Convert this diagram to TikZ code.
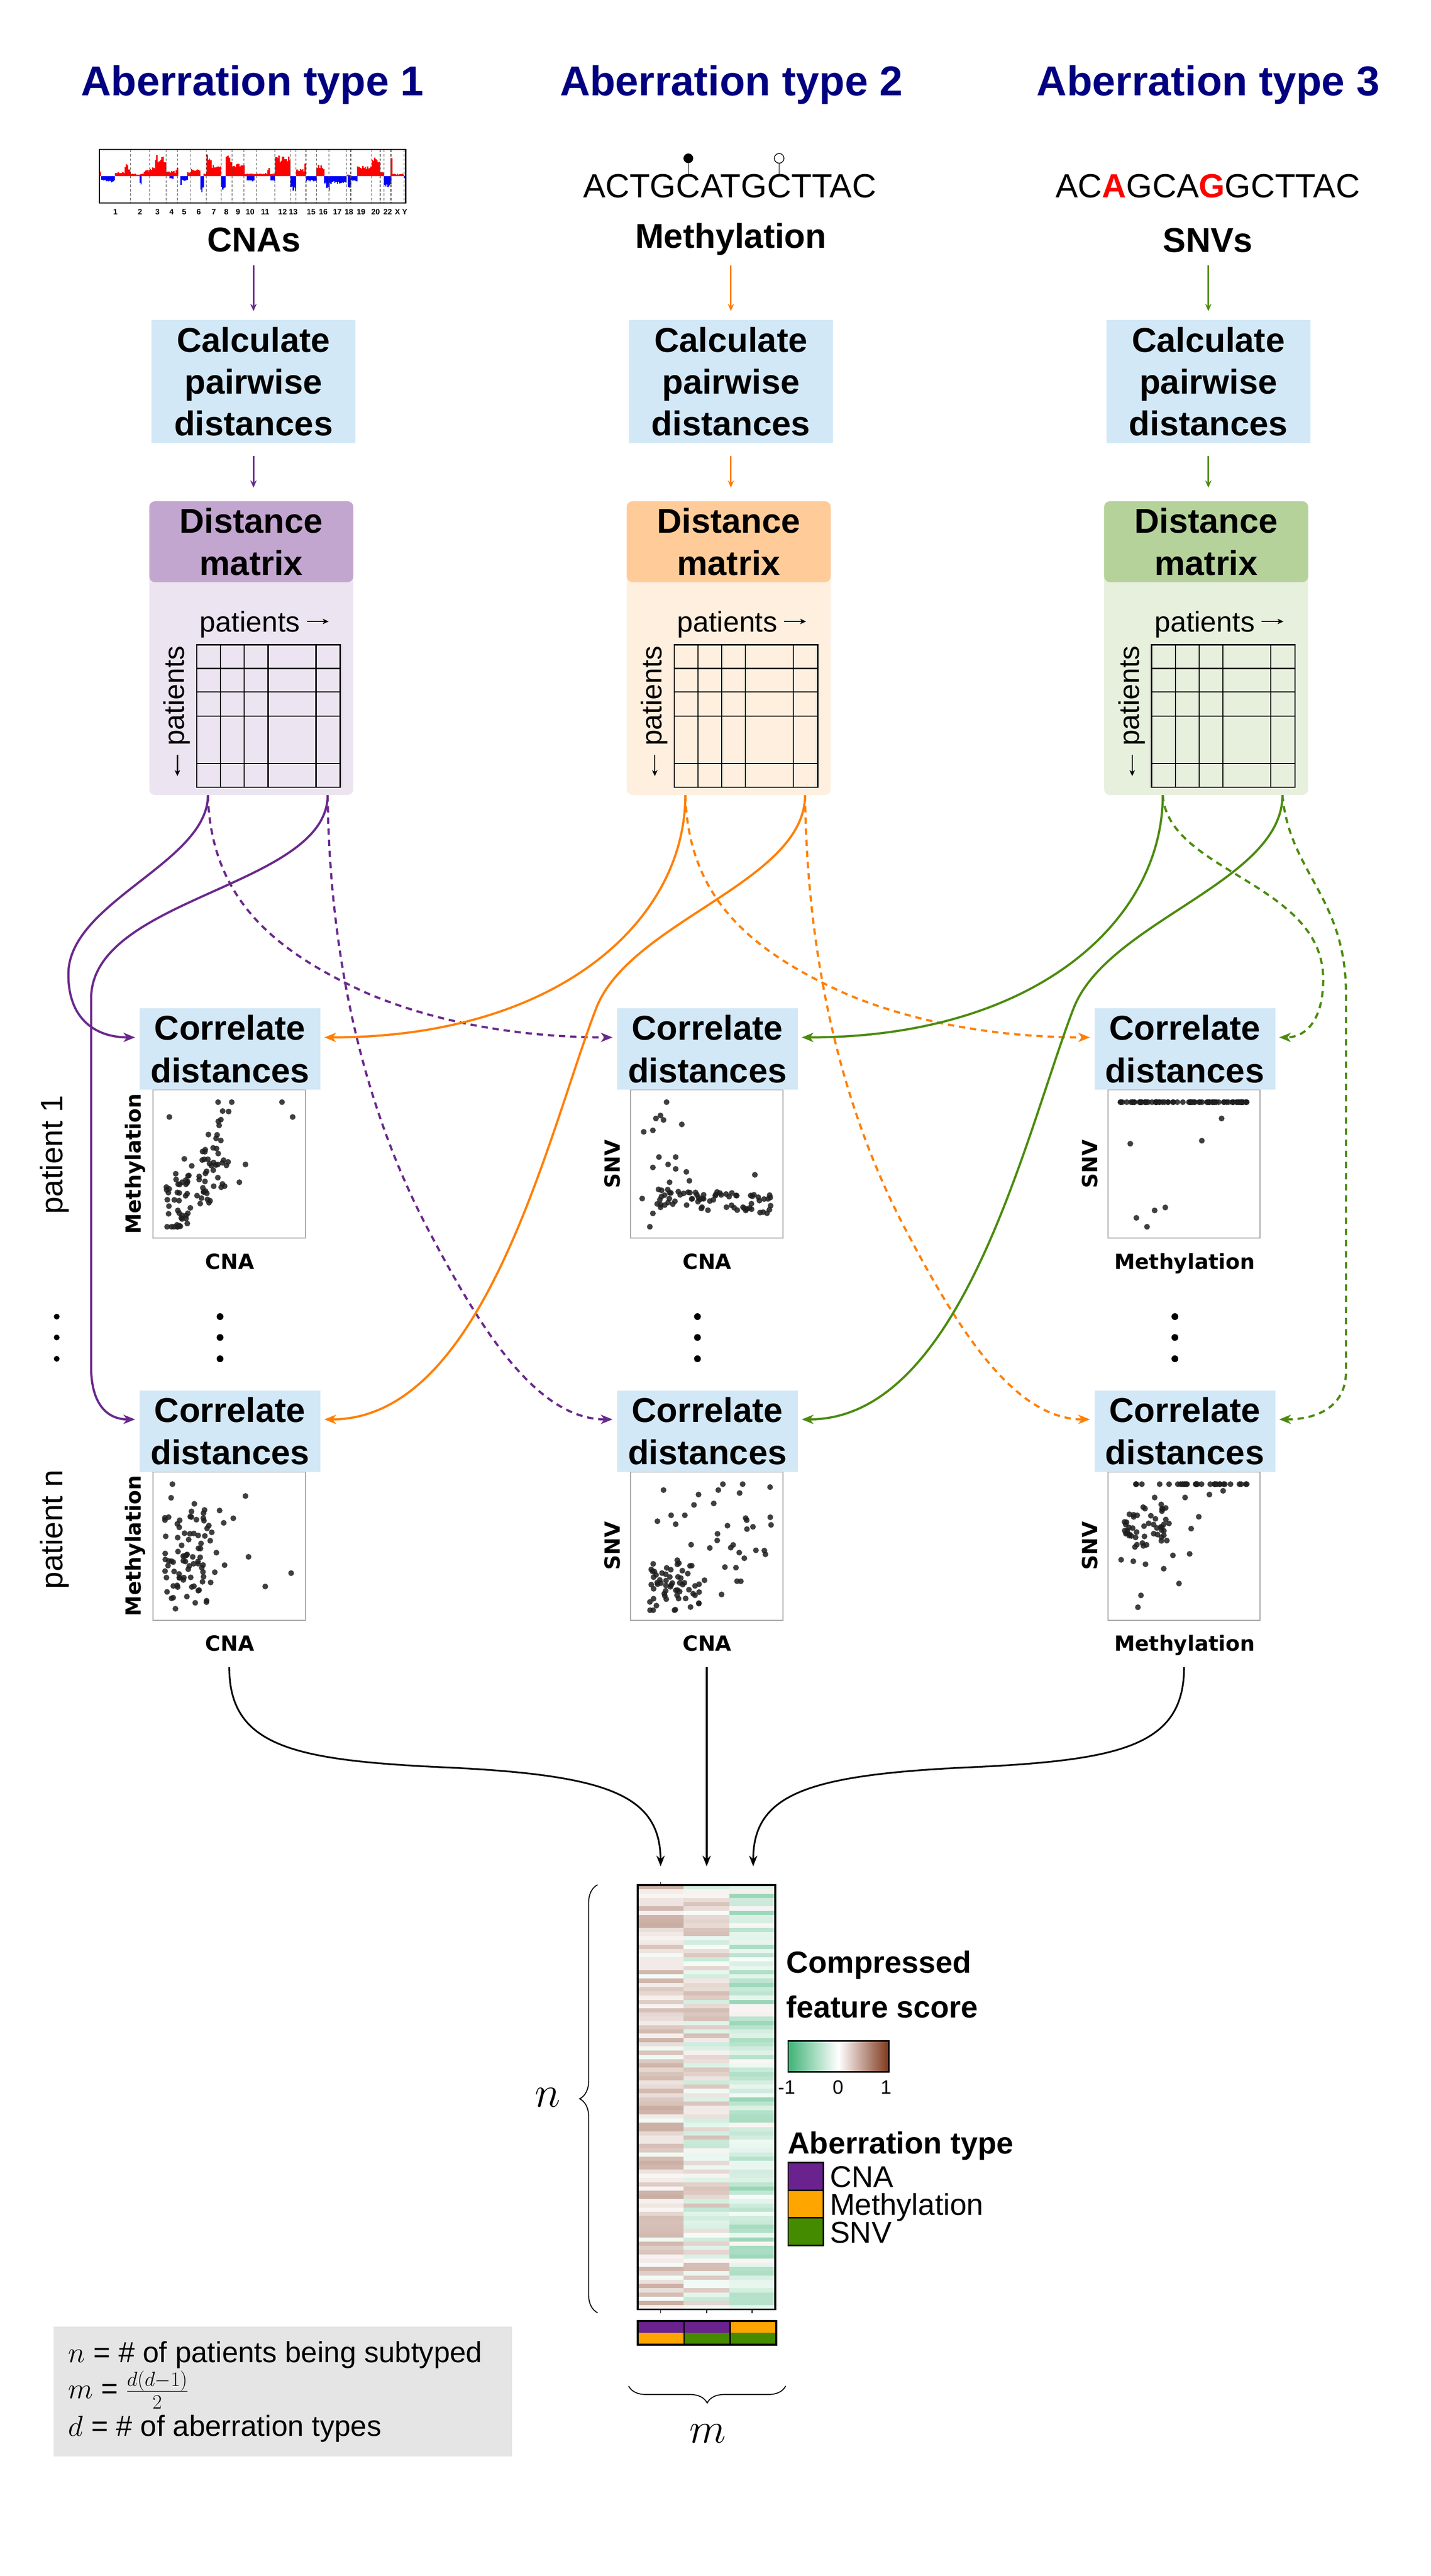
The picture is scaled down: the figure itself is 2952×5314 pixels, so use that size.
\documentclass[tikz,border=0pt]{standalone}
\usepackage{fix-cm}
\usepackage[no-math]{fontspec}
\setmainfont{Liberation Sans}
\newfontfamily\dejavu{DejaVu Sans}
\usetikzlibrary{arrows.meta,decorations.pathreplacing}

\definecolor{navy}{RGB}{0,0,128}
\definecolor{calcblue}{RGB}{211,232,246}
\definecolor{cpur}{RGB}{106,40,140}
\definecolor{corg}{RGB}{255,127,0}
\definecolor{cgrn}{RGB}{75,139,12}
\definecolor{dmpH}{RGB}{195,166,207}
\definecolor{dmpL}{RGB}{236,228,241}
\definecolor{dmoH}{RGB}{255,204,153}
\definecolor{dmoL}{RGB}{255,239,222}
\definecolor{dmgH}{RGB}{182,210,155}
\definecolor{dmgL}{RGB}{231,240,221}
\definecolor{hmgreen}{RGB}{62,178,118}
\definecolor{hmbrown}{RGB}{126,56,28}
\definecolor{legpur}{RGB}{106,34,142}
\definecolor{legorg}{RGB}{255,165,0}
\definecolor{leggrn}{RGB}{69,139,0}
\definecolor{boxgray}{RGB}{229,229,229}
\definecolor{ptc}{RGB}{30,30,30}

\tikzset{
  ttl/.style={font=\fontsize{86}{100}\selectfont\bfseries, text=navy, inner sep=0pt, anchor=base},
  lab/.style={font=\fontsize{71}{86}\selectfont\bfseries, inner sep=0pt, anchor=base},
  seqtxt/.style={font=\fontsize{69}{80}\selectfont, inner sep=0pt, anchor=base west},
  calcbox/.style={fill=calcblue, minimum width=421pt, minimum height=254pt, align=center, inner sep=0pt, font=\fontsize{71}{86}\selectfont\bfseries},
  dmhead/.style={rounded corners=12pt, minimum width=421pt, minimum height=167pt, align=center, inner sep=0pt, font=\fontsize{71}{87}\selectfont\bfseries},
  dmbody/.style={rounded corners=12pt, minimum width=421pt, minimum height=606pt, inner sep=0pt},
  corrbox/.style={fill=calcblue, minimum width=373pt, minimum height=168pt, align=center, inner sep=0pt, font=\fontsize{71}{88}\selectfont\bfseries},
  sframe/.style={draw=black!35, line width=2.2pt, minimum width=314pt, minimum height=306pt, inner sep=0pt},
  axlab/.style={font=\dejavu\bfseries\fontsize{43}{50}\selectfont, inner sep=0pt},
  dotpt/.style={fill=ptc, fill opacity=0.85},
  conn/.style={line width=4.5pt, -{Stealth[length=24pt,width=19pt,inset=7pt]}},
  dsh/.style={dash pattern=on 13pt off 10pt},
  smallarr/.style={line width=3pt, -{Stealth[length=15pt,width=13pt,inset=5pt]}},
  mergearr/.style={line width=3.5pt, -{Stealth[length=22pt,width=17pt,inset=7pt]}},
  gridln/.style={line width=2.5pt},
  plain/.style={inner sep=0pt},
  legtxt/.style={inner sep=0pt, anchor=base west, font=\fontsize{62}{70}\selectfont},
  legttl/.style={inner sep=0pt, anchor=base west, font=\fontsize{63}{70}\selectfont\bfseries},
}

\begin{document}
\begin{tikzpicture}[x=1pt,y=-1pt]
\fill[white] (0,0) rectangle (2952,5314);
\useasboundingbox (0,0) rectangle (2952,5314);

% ---------- titles ----------
\node[ttl] (t1) at (521,197) {Aberration type 1};
\node[ttl] (t2) at (1509,197) {Aberration type 2};
\node[ttl] (t3) at (2493,197) {Aberration type 3};

% ---------- CNA genome plot ----------
\pgfmathsetseed{7}
\foreach \sa/\sb/\sh in {205/208/9, 208/237/-9, 228/235/-13, 237/270/9, 257/264/22, 265/268/17, 270/309/5, 288/292/-18, 297/309/12, 309/343/17, 320/343/40, 343/367/10, 350/358/-5, 362/367/17, 372/387/-9, 372/375/-22, 386/394/9, 394/413/16, 413/420/-29, 420/426/6, 426/436/42, 436/456/22, 456/465/-29, 465/479/40, 479/504/24, 504/529/6, 509/525/-9, 529/567/6, 552/556/17, 558/567/-9, 567/599/39, 599/611/-29, 611/631/14, 628/631/25, 631/653/-9, 653/669/22, 669/715/-14, 673/680/-29, 715/724/4, 717/724/-21, 724/737/-9, 737/767/20, 767/784/39, 784/792/9, 792/807/-20, 806/809/35, 809/834/5, 834/837/-4}{
  \pgfmathsetmacro\nn{int(max(1,round((\sb-\sa)/2.5)))}
  \pgfmathsetmacro\ww{(\sb-\sa)/\nn}
  \foreach \j in {1,...,\nn}{
    \pgfmathsetmacro\xx{\sa+(\j-1)*\ww}
    \pgfmathsetmacro\hh{\sh*(0.72+0.4*rnd)}
    \ifdim\hh pt>0pt \def\cc{red}\else\def\cc{blue}\fi
    \fill[\cc] (\xx,364) rectangle ({\xx+\ww+0.4},{364-\hh});
  }
}
\foreach \sx in {269.2,308.5,342.9,366.5,393.8,425.9,456.3,478.6,503.6,528.6,567,599.1,610.7,631.3,653.1,678.6,714.7,723.7,767,784.4,792.4,806.7,833.9}
  \draw[dash pattern=on 5pt off 4pt, line width=1.2pt, black!70] (\sx,309) -- (\sx,418);
\draw[line width=2.5pt] (205,308) rectangle (837,419);
\foreach \sx/\sl in {238/1,289/2,325/3,354/4,380/5,410/6,441/7,467/8,491/9,516/10,547/11,583/12,605/13,642/15,667/16,696/17,720/18,745/19,775/20,800/22,820/X,835/Y}
  \node[plain, anchor=base, font=\fontsize{16}{18}\selectfont\bfseries] at (\sx,443) {\sl};

% ---------- data type labels ----------
\node[lab] (lab0) at (524,519) {CNAs};
\node[lab] (lab1) at (1508,512) {Methylation};
\node[lab] (lab2) at (2492,520) {SNVs};

% methylation sequence with lollipops
\node[seqtxt] (m1) at (1203,408) {ACTG};
\node[seqtxt] (m2) at (m1.base east) {C};
\node[seqtxt] (m3) at (m2.base east) {ATG};
\node[seqtxt] (m4) at (m3.base east) {C};
\node[seqtxt] (m5) at (m4.base east) {TTAC};
\draw[line width=1.5pt] (m2.north) -- ([yshift=23pt]m2.north);
\fill ([yshift=33pt]m2.north) circle[radius=10pt];
\draw[line width=1.5pt] (m4.north) -- ([yshift=23pt]m4.north);
\draw[line width=1.5pt, fill=white] ([yshift=33pt]m4.north) circle[radius=10pt];

% SNV sequence
\node[seqtxt, anchor=base] (snvseq) at (2492,408) {AC\textcolor{red}{\bfseries A}GCA\textcolor{red}{\bfseries G}GCTTAC};

% ---------- calc boxes and distance matrices ----------
\foreach \k/\hc/\lc/\ac in {0/dmpH/dmpL/cpur,1/dmoH/dmoL/corg,2/dmgH/dmgL/cgrn}{
  \node[calcbox] (calc\k) at (523+985*\k,787) {Calculate\\pairwise\\distances};
  \node[dmbody, fill=\lc] (dmb\k) at (518.5+985*\k,1337) {};
  \node[dmhead, fill=\hc] (dmh\k) at (518.5+985*\k,1117.5) {Distance\\matrix};
  \draw[smallarr,\ac] (calc\k.north |- 0,547) -- ([yshift=18pt]calc\k.north);
  \draw[smallarr,\ac] (calc\k.south |- 0,941) -- (calc\k.south |- 0,1006);
  \begin{scope}[shift={(985*\k,0)}]
    \draw[gridln] (406,1330) rectangle (702,1624);
    \foreach \gx in {455,504,553,652} \draw[gridln] (\gx,1330) -- (\gx,1624);
    \foreach \gy in {1379,1427,1477,1575} \draw[gridln] (406,\gy) -- (702,\gy);
    \node[plain, anchor=base west, font=\fontsize{59}{70}\selectfont] at (412,1303) {patients};
    \draw[line width=2.5pt, -{Stealth[length=12pt,width=11pt,inset=3pt]}] (633,1282) -- (678,1282);
    \node[plain, anchor=base west, rotate=90, font=\fontsize{59}{70}\selectfont] at (380,1539) {patients};
    \draw[line width=2.5pt, -{Stealth[length=12pt,width=11pt,inset=3pt]}] (366,1557) -- (366,1601);
  \end{scope}
}

% ---------- correlate boxes + scatter frames ----------
\foreach \k/\xl/\yl in {0/CNA/Methylation,1/CNA/SNV,2/Methylation/SNV}{
  \foreach \r in {0,1}{
    \node[sframe] (s\r\k) at (473+985*\k,2401+788*\r) {};
    \node[corrbox] (c\r\k) at (474.5+985*\k,2164+788*\r) {Correlate\\distances};
    \node[axlab, anchor=base] (xl\r\k) at (474+985*\k,2618+788*\r) {\xl};
    \node[axlab, rotate=90] (yl\r\k) at ([xshift=-36pt]s\r\k.west) {\yl};
    \coordinate (L\r\k) at ([xshift=-9pt,yshift=24pt]c\r\k.west);
    \coordinate (R\r\k) at ([xshift=8pt,yshift=24pt]c\r\k.east);
  }
}

% scatter row1 col1
\begin{scope}[shift={(s00.south west)},x=314pt,y=306pt]
\pgfmathsetseed{11}
\foreach \i in {1,...,92}{
  \pgfmathsetmacro\px{0.09+0.42*rnd}
  \pgfmathsetmacro\py{min(0.9,max(0.08,0.16+1.15*(\px-0.09)+0.5*(rnd-0.5)))}
  \fill[dotpt] (\px,\py) circle[radius=6pt];
}
\foreach \px/\py in {0.85/0.92,0.92/0.82,0.61/0.5,0.57/0.38,0.11/0.82,0.43/0.92,0.52/0.92,0.46/0.86}
  \fill[dotpt] (\px,\py) circle[radius=6pt];
\end{scope}

% scatter row1 col2
\begin{scope}[shift={(s01.south west)},x=314pt,y=306pt]
\pgfmathsetseed{12}
\foreach \i in {1,...,72}{
  \pgfmathsetmacro\px{0.17+0.78*rnd}
  \pgfmathsetmacro\py{0.28-0.05*\px+0.13*(rnd-0.5)}
  \fill[dotpt] (\px,\py) circle[radius=6pt];
}
\foreach \px/\py in {0.24/0.92,0.2/0.83,0.17/0.81,0.22/0.8,0.34/0.77,0.09/0.72,0.15/0.73,0.19/0.55,0.3/0.55,0.25/0.5,0.15/0.48,0.3/0.47,0.37/0.45,0.26/0.38,0.39/0.39,0.82/0.43,0.08/0.27,0.15/0.17,0.13/0.08}
  \fill[dotpt] (\px,\py) circle[radius=6pt];
\end{scope}

% scatter row1 col3
\begin{scope}[shift={(s02.south west)},x=314pt,y=306pt]
\pgfmathsetseed{13}
\foreach \i in {1,...,75}{
  \pgfmathsetmacro\px{0.085+0.83*rnd}
  \fill[dotpt] (\px,0.92) circle[radius=6pt];
}
\foreach \px/\py in {0.085/0.92,0.915/0.92,0.75/0.81,0.15/0.64,0.62/0.66,0.19/0.14,0.26/0.08,0.31/0.19,0.38/0.21}
  \fill[dotpt] (\px,\py) circle[radius=6pt];
\end{scope}

% scatter row2 col1
\begin{scope}[shift={(s10.south west)},x=314pt,y=306pt]
\pgfmathsetseed{21}
\foreach \i in {1,...,72}{
  \pgfmathsetmacro\px{0.08+0.34*pow(rnd,1.2)}
  \pgfmathsetmacro\py{0.13+0.62*rnd}
  \fill[dotpt] (\px,\py) circle[radius=6pt];
}
\foreach \i in {1,...,14}{
  \pgfmathsetmacro\px{0.1+0.5*rnd}
  \pgfmathsetmacro\py{0.1+0.8*rnd}
  \fill[dotpt] (\px,\py) circle[radius=6pt];
}
\foreach \px/\py in {0.13/0.92,0.61/0.84,0.53/0.69,0.91/0.32,0.74/0.23,0.63/0.43,0.15/0.08,0.28/0.12}
  \fill[dotpt] (\px,\py) circle[radius=6pt];
\end{scope}

% scatter row2 col2
\begin{scope}[shift={(s11.south west)},x=314pt,y=306pt]
\pgfmathsetseed{22}
\foreach \i in {1,...,35}{
  \pgfmathsetmacro\px{0.13+0.3*rnd}
  \pgfmathsetmacro\py{0.1+0.3*rnd}
  \fill[dotpt] (\px,\py) circle[radius=6pt];
}
\foreach \i in {1,...,48}{
  \pgfmathsetmacro\px{0.13+0.8*rnd}
  \pgfmathsetmacro\py{max(0.07,min(0.9,0.1+0.5*\px+0.45*(rnd-0.5)))}
  \fill[dotpt] (\px,\py) circle[radius=6pt];
}
\foreach \px/\py in {0.22/0.88,0.61/0.92,0.74/0.92,0.92/0.9,0.58/0.88,0.45/0.85,0.72/0.86,0.42/0.78,0.55/0.79,0.27/0.71,0.36/0.71,0.18/0.67,0.3/0.65,0.64/0.64}
  \fill[dotpt] (\px,\py) circle[radius=6pt];
\end{scope}

% scatter row2 col3
\begin{scope}[shift={(s12.south west)},x=314pt,y=306pt]
\pgfmathsetseed{23}
\foreach \i in {1,...,32}{
  \pgfmathsetmacro\px{0.18+0.74*rnd}
  \fill[dotpt] (\px,0.92) circle[radius=6pt];
}
\foreach \i in {1,...,50}{
  \pgfmathsetmacro\px{0.11+0.3*rnd}
  \pgfmathsetmacro\py{0.48+0.27*rnd+0.15*(\px-0.11)}
  \fill[dotpt] (\px,\py) circle[radius=6pt];
}
\foreach \px/\py in {0.76/0.875,0.67/0.85,0.31/0.83,0.51/0.83,0.43/0.44,0.54/0.45,0.09/0.41,0.17/0.4,0.25/0.38,0.37/0.35,0.47/0.25,0.22/0.17,0.2/0.09,0.6/0.7,0.55/0.62}
  \fill[dotpt] (\px,\py) circle[radius=6pt];
\end{scope}

% vertical ellipsis dots
\foreach \k in {0,1,2}
  \foreach \yy in {2716,2759,2803}
    \fill (454+985*\k,\yy) circle[radius=7pt];
\foreach \yy in {2716,2759,2803}
  \fill (117,\yy) circle[radius=6pt];

% patient labels
\node[plain, rotate=90, font=\fontsize{64}{70}\selectfont] (p1) at (113,2382) {patient 1};
\node[plain, rotate=90, font=\fontsize{64}{70}\selectfont] (pn) at (113,3155) {patient n};

% ---------- connectors ----------
\foreach \k in {0,1,2}{
  \coordinate (pa\k) at ([xshift=-89.5pt]dmb\k.south);
  \coordinate (pb\k) at ([xshift=157.5pt]dmb\k.south);
}
% purple
\draw[conn, cpur] (pa0) .. controls (429,1780) and (141,1860) .. (141,2010) .. controls (141,2105) and (200,2140) .. (L00);
\draw[conn, cpur] (pb0) .. controls (676,1830) and (188,1850) .. (188,2060) -- (188,2820) .. controls (188,2895) and (220,2928) .. (L10);
\draw[conn, dsh, cpur] (pa0) .. controls (435,1850) and (560,1960) .. (760,2050) .. controls (950,2130) and (1150,2140) .. (L01);
\draw[conn, dsh, cpur] (pb0) .. controls (680,2000) and (760,2300) .. (880,2530) .. controls (980,2720) and (1100,2928) .. (L11);
% orange
\draw[conn, corg] (pa1) .. controls (1414,1900) and (1150,2140) .. (R00);
\draw[conn, corg] (pb1) .. controls (1661,1820) and (1300,1900) .. (1230,2080) .. controls (1130,2340) and (1000,2928) .. (R10);
\draw[conn, dsh, corg] (pa1) .. controls (1420,1850) and (1545,1960) .. (1745,2050) .. controls (1935,2130) and (2135,2140) .. (L02);
\draw[conn, dsh, corg] (pb1) .. controls (1665,2000) and (1745,2300) .. (1865,2530) .. controls (1965,2720) and (2085,2928) .. (L12);
% green
\draw[conn, cgrn] (pa2) .. controls (2399,1900) and (2135,2140) .. (R01);
\draw[conn, cgrn] (pb2) .. controls (2646,1820) and (2285,1900) .. (2215,2080) .. controls (2115,2340) and (1985,2928) .. (R11);
\draw[conn, dsh, cgrn] (pa2) .. controls (2410,1800) and (2730,1820) .. (2730,2020) .. controls (2730,2110) and (2690,2140) .. (R02);
\draw[conn, dsh, cgrn] (pb2) .. controls (2660,1800) and (2777,1850) .. (2777,2050) -- (2777,2830) .. controls (2777,2900) and (2720,2928) .. (R12);

% ---------- heatmap ----------
\pgfmathsetseed{99}
\foreach \r in {0,...,99}{
  \foreach \c/\m/\sp in {0/0.17/0.42,1/0.02/0.55,2/-0.2/0.5}{
    \pgfmathsetmacro\val{\m+\sp*(rnd-0.5)}
    \ifdim\val pt>0pt
      \def\hcol{hmbrown}\pgfmathsetmacro\hp{min(100,\val*100+4)}
    \else
      \def\hcol{hmgreen}\pgfmathsetmacro\hp{min(100,-\val*110+4)}
    \fi
    \fill[\hcol!\hp!white] ({1316+94.33*\c},{3889+8.75*\r}) rectangle ({1316+94.33*(\c+1)},{3889+8.75*(\r+1)+0.3});
  }
}
\node[draw, line width=4pt, minimum width=284pt, minimum height=875pt, inner sep=0pt] (heat) at (1457.5,4326.5) {};
\foreach \tx in {1363,1458,1552} \draw[line width=2pt] (\tx,4764) -- (\tx,4772);
\draw[line width=2pt] (1363,3882) -- (1363,3889);

% merge arrows
\coordinate (mL) at (473,3439);
\coordinate (mM) at (1458,3439);
\coordinate (mR) at (2443,3439);
\coordinate (h0) at ([xshift=-94.5pt,yshift=37pt]heat.north);
\coordinate (h1) at ([xshift=0.5pt,yshift=37pt]heat.north);
\coordinate (h2) at ([xshift=96.5pt,yshift=37pt]heat.north);
\draw[mergearr] (mL) .. controls (473,3600) and (600,3630) .. (900,3645) .. controls (1250,3660) and (1362,3700) .. (h0);
\draw[mergearr] (mM) -- (h1);
\draw[mergearr] (mR) .. controls (2443,3600) and (2316,3630) .. (2016,3645) .. controls (1666,3660) and (1554,3700) .. (h2);

% annotation bar
\foreach \c/\ta/\tb in {0/legpur/legorg,1/legpur/leggrn,2/legorg/leggrn}{
  \fill[\ta] ({1316+95.3*\c},4788) rectangle ({1316+95.3*(\c+1)},4812);
  \fill[\tb] ({1316+95.3*\c},4812) rectangle ({1316+95.3*(\c+1)},4837);
}
\draw[line width=4pt] (1316,4788) rectangle (1602,4837);
\foreach \c in {1,2} \draw[line width=2.5pt] ({1316+95.3*\c},4788) -- ({1316+95.3*\c},4837);

% braces
\draw[line width=2pt, decorate, decoration={brace, amplitude=37pt}] (1233,4771) -- (1233,3888);
\node[plain, font=\fontsize{90}{100}\selectfont] (nlab) at (1130,4327) {$n$};
\draw[line width=2pt, decorate, decoration={brace, amplitude=35pt}] (1621,4922) -- (1297,4922);
\node[plain, font=\fontsize{88}{100}\selectfont] (mlab) at (1460,5020) {$m$};

% heatmap legend
\node[legttl] (cfs1) at (1622,4070) {Compressed};
\node[legttl] (cfs2) at (1622,4162) {feature score};
\shade[left color=hmgreen, right color=white] (1626,4210) rectangle (1730,4274);
\shade[left color=white, right color=hmbrown] (1730,4210) rectangle (1834,4274);
\draw[line width=3pt] (1626,4210) rectangle (1834,4274);
\node[plain, anchor=base, font=\fontsize{40}{48}\selectfont] (tm1) at (1623,4320) {-1};
\node[plain, anchor=base, font=\fontsize{40}{48}\selectfont] (t0) at (1729,4320) {0};
\node[plain, anchor=base, font=\fontsize{40}{48}\selectfont] (tp1) at (1828,4320) {1};

\node[legttl] (abt) at (1625,4443) {Aberration type};
\foreach \yy/\cc/\tt/\bb in {4461/legpur/CNA/4512,4518/legorg/Methylation/4569,4575/leggrn/SNV/4627}{
  \draw[line width=3pt, fill=\cc] (1626,\yy) rectangle (1699,\yy+57);
  \node[legtxt] at (1712,\bb) {\tt};
}

% definitions box
\fill[boxgray] (111,4800) rectangle (1056,5067);
\node[legtxt, font=\fontsize{60}{70}\selectfont] (defn) at (141,4873) {$n$ = \# of patients being subtyped};
\node[legtxt, font=\fontsize{60}{70}\selectfont] (defm) at (141,4948) {$m$ = $\frac{d(d-1)}{2}$};
\node[legtxt, font=\fontsize{60}{70}\selectfont] (defd) at (141,5025) {$d$ = \# of aberration types};

\end{tikzpicture}
\end{document}
